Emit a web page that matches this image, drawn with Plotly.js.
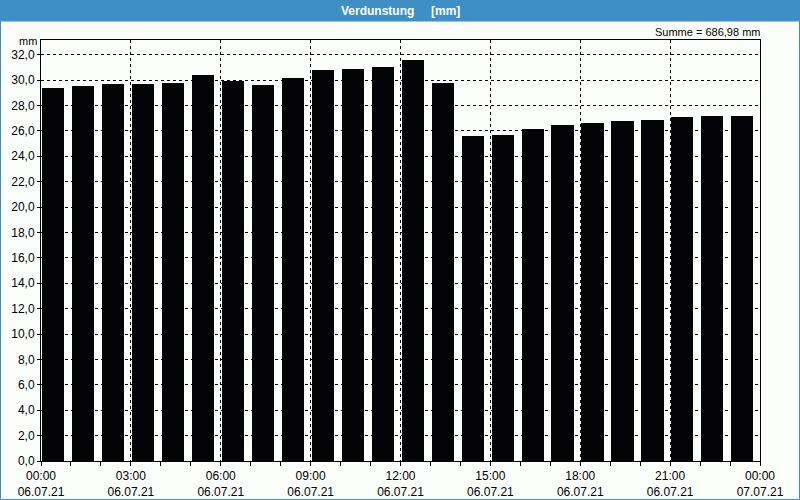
<!DOCTYPE html>
<html>
<head>
<meta charset="utf-8">
<script src="https://cdn.plot.ly/plotly-3.0.1.min.js"></script>
<style>
html,body{margin:0;padding:0;background:#fcfefc;}
#chart{width:800px;height:500px;}
</style>
</head>
<body>
<div id="chart"></div>
<script>
// Hour slots (start hour of each bar), 06.07.21
var hours = [0,1,2,3,4,5,6,7,8,9,10,11,12,13,14,15,16,17,18,19,20,21,22,23];
var values = [29.36,29.51,29.67,29.67,29.75,30.38,29.91,29.59,30.14,30.77,30.85,31.01,31.56,29.75,25.58,25.66,26.13,26.44,26.60,26.76,26.84,27.07,27.15,27.15];
var tickHours = [0,3,6,9,12,15,18,21,24];
var tickLabels = ['00:00<br>06.07.21','03:00<br>06.07.21','06:00<br>06.07.21','09:00<br>06.07.21','12:00<br>06.07.21','15:00<br>06.07.21','18:00<br>06.07.21','21:00<br>06.07.21','00:00<br>07.07.21'];
var yTicks = [0,2,4,6,8,10,12,14,16,18,20,22,24,26,28,30,32];
var titleText = 'Verdunstung&nbsp;&nbsp;&nbsp;&nbsp;&nbsp;[mm]';
var sumText = 'Summe = 686,98 mm';

var W = 800, H = 500;
var m = {l:41, r:40, t:40, b:39};
var pw = W - m.l - m.r, ph = H - m.t - m.b;
function px2py(y){ return 1 + (m.t - y)/ph; } // page y pixel -> paper y
function px2px(x){ return (x - m.l)/pw; }

var fontFam = '"Liberation Sans", Arial, sans-serif';

var trace = {
  type:'bar',
  x: hours,
  y: values,
  offset: 0.04,
  width: 0.74,
  marker:{color:'#040306', line:{width:0}},
  hoverinfo:'skip'
};

var layout = {
  width: W, height: H,
  margin: m,
  paper_bgcolor:'#fcfefc',
  plot_bgcolor:'#fcfefc',
  separators: ',.',
  showlegend:false,
  font:{family:fontFam, size:12, color:'#000'},
  bargap:0,
  xaxis:{
    range:[0,24],
    tickmode:'array',
    tickvals: tickHours,
    ticktext: tickLabels,
    ticks:'outside', ticklen:4, tickcolor:'#000',
    showgrid:true, gridcolor:'#000', gridwidth:1, griddash:'3px,3px',
    minor:{tickmode:'linear', tick0:0, dtick:1, ticks:'outside', ticklen:4, tickcolor:'#000', showgrid:false},
    showline:true, linecolor:'#000', linewidth:1, mirror:true,
    zeroline:false,
    tickfont:{size:12, family:fontFam},
    fixedrange:true
  },
  yaxis:{
    range:[0,33.15],
    tickmode:'array',
    tickvals: yTicks,
    tickformat:'.1f',
    ticks:'outside', ticklen:3, tickcolor:'#000',
    showgrid:true, gridcolor:'#000', gridwidth:1, griddash:'3px,3px',
    showline:true, linecolor:'#000', linewidth:1, mirror:true,
    zeroline:false,
    tickfont:{size:12, family:fontFam},
    fixedrange:true
  },
  shapes:[
    {type:'rect', xref:'paper', yref:'paper', layer:'below',
     x0:px2px(-5), x1:px2px(805), y0:px2py(21), y1:px2py(-5),
     fillcolor:'#3d8fc6', line:{width:0}},
    {type:'rect', xref:'paper', yref:'paper', layer:'below',
     x0:px2px(0.5), x1:px2px(799.5), y0:px2py(499.5), y1:px2py(21),
     fillcolor:'rgba(0,0,0,0)', line:{width:1, color:'#3d8fc6'}}
  ],
  annotations:[
    {text:'<b>'+titleText+'</b>', xref:'paper', yref:'paper',
     x:px2px(400), y:px2py(10.5), xanchor:'center', yanchor:'middle',
     showarrow:false, font:{color:'#ffffff', size:12, family:fontFam}},
    {text:sumText, xref:'paper', yref:'paper',
     x:px2px(762), y:px2py(32), xanchor:'right', yanchor:'middle',
     showarrow:false, font:{size:11, family:fontFam}},
    {text:'mm', xref:'paper', yref:'paper',
     x:px2px(38), y:px2py(41), xanchor:'right', yanchor:'middle',
     showarrow:false, borderpad:0, font:{size:11, family:fontFam}}
  ]
};

Plotly.newPlot('chart', [trace], layout, {displayModeBar:false, staticPlot:true});
</script>
</body>
</html>
